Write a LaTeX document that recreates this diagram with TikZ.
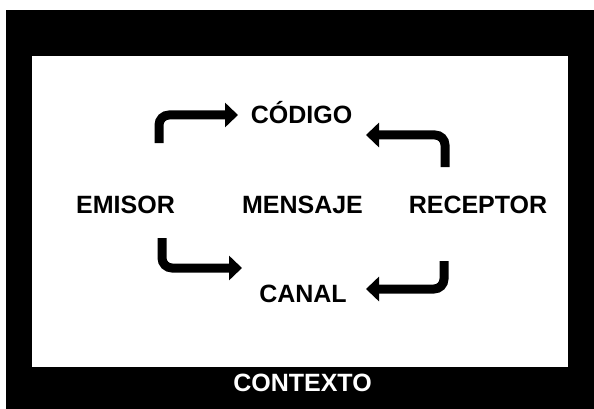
\documentclass[tikz,border=0pt]{standalone}
\usepackage{fontspec}
\setmainfont{Liberation Sans}
\usetikzlibrary{arrows.meta}
\begin{document}
\begin{tikzpicture}[x=1pt,y=-1pt,
  lbl/.style={font=\fontsize{25}{29}\selectfont\bfseries, inner sep=0pt, anchor=base},
  flow/.style={line width=9pt, rounded corners=10pt, -{Triangle[length=13pt,width=24pt]}}]
\useasboundingbox (0,0) rectangle (594,409);
\fill[white] (0,0) rectangle (594,409);
\fill[black] (6,10) rectangle (594,409);
\fill[white] (32,56) rectangle (568,367);
\node[lbl] (emisor) at (125.5,213) {EMISOR};
\node[lbl] (mensaje) at (302.5,213) {MENSAJE};
\node[lbl] (receptor) at (478,213) {RECEPTOR};
\node[lbl] (codigo) at (301.5,124) {CÓDIGO};
\node[lbl] (canal) at (303,302) {CANAL};
\node[lbl, text=white] (contexto) at (302.5,391) {CONTEXTO};
\coordinate (s1) at (159,143); \coordinate (t1) at (238,115);
\coordinate (s2) at (162,238); \coordinate (t2) at (242,268);
\coordinate (s3) at (445,167); \coordinate (t3) at (366,135);
\coordinate (s4) at (444,261); \coordinate (t4) at (366,289);
\draw[flow] (s1) |- (t1);
\draw[flow] (s2) |- (t2);
\draw[flow] (s3) |- (t3);
\draw[flow] (s4) |- (t4);
\end{tikzpicture}
\end{document}
